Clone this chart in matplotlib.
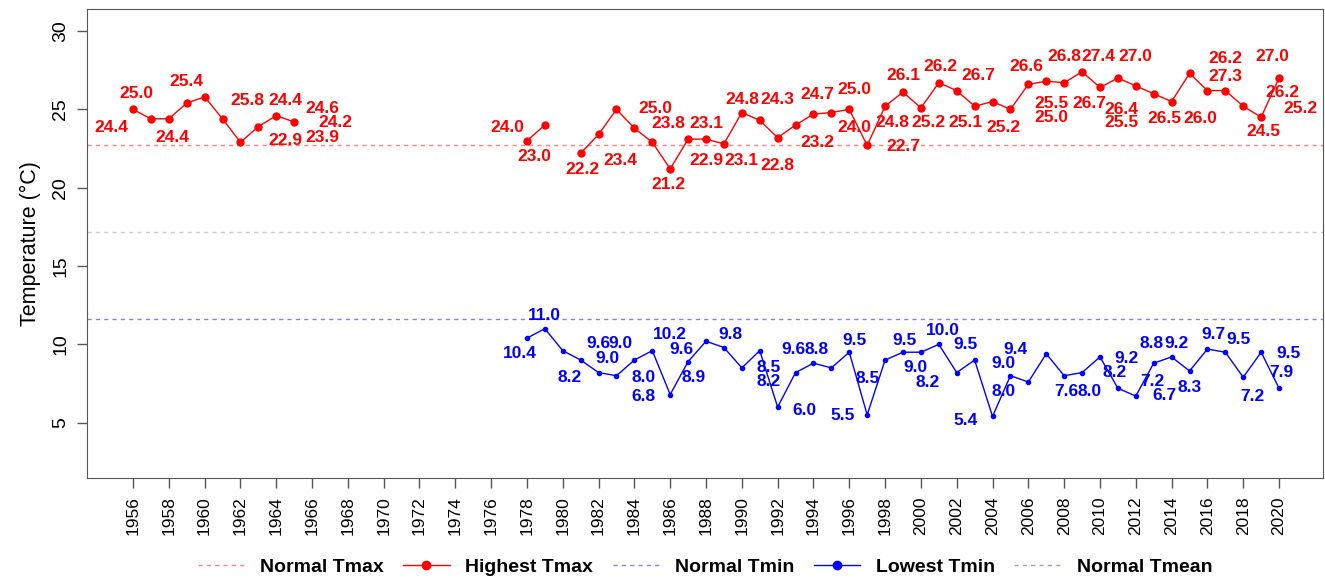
import numpy as np
import matplotlib.pyplot as plt
from matplotlib.lines import Line2D

plt.rcParams['font.family'] = ['Liberation Sans', 'DejaVu Sans']

nan = np.nan
years = list(range(1956, 2021))

# highest Tmax per year (1956-2020), gaps = no data
tmax = [25.0, 24.4, 24.4, 25.4, 25.8, 24.4, 22.9, 23.9, 24.6, 24.2,
        nan, nan, nan, nan, nan, nan, nan, nan, nan, nan, nan, nan,
        23.0, 24.0, nan, 22.2, 23.4, 25.0, 23.8, 22.9, 21.2, 23.1,
        23.1, 22.8, 24.8, 24.3, 23.2, 24.0, 24.7, 24.8, 25.0, 22.7,
        25.2, 26.1, 25.1, 26.7, 26.2, 25.2, 25.5, 25.0, 26.6, 26.8,
        26.7, 27.4, 26.4, 27.0, 26.5, 26.0, 25.5, 27.3, 26.2, 26.2,
        25.2, 24.5, 27.0]

# lowest Tmin per year (1956-2020)
tmin = [nan] * 22 + [
        10.4, 11.0, 9.6, 9.0, 8.2, 8.0, 9.0, 9.6, 6.8, 8.9,
        10.2, 9.8, 8.5, 9.6, 6.0, 8.2, 8.8, 8.5, 9.5, 5.5,
        9.0, 9.5, 9.5, 10.0, 8.2, 9.0, 5.4, 8.0, 7.6, 9.4,
        8.0, 8.2, 9.2, 7.2, 6.7, 8.8, 9.2, 8.3, 9.7, 9.5,
        7.9, 9.5, 7.2]

normal_tmax = 22.7
normal_tmin = 11.6
normal_tmean = 17.2

# where the value labels sit (year, temp), one per existing point
tmax_lab_x = [1956.2, 1954.8, 1958.2, 1959.0, 1962.4, 1964.5, 1964.5, 1966.6, 1966.6, 1967.3,
              1978.4, 1976.9, 1981.1, 1983.2, 1985.2, 1985.9, 1988.0, 1985.9, 1988.0, 1990.0,
              1992.0, 1990.0, 1992.0, 1994.2, 1996.3, 1994.2, 1998.4, 1996.3, 1999.0, 2000.4,
              1999.0, 2002.5, 2003.2, 2001.1, 2004.6, 2007.3, 2007.3, 2005.9, 2008.0, 2009.4,
              2009.9, 2011.2, 2012.0, 2013.6, 2015.6, 2011.2, 2017.0, 2017.0, 2020.2, 2021.2,
              2019.1, 2019.6]
tmax_lab_y = [26.03, 23.85, 23.21, 26.79, 25.58, 25.58, 23.01, 23.21, 25.06, 24.17,
              22.01, 23.83, 21.15, 21.75, 25.04, 24.10, 21.75, 20.19, 24.10, 21.75,
              21.41, 25.64, 25.64, 22.90, 23.83, 25.96, 24.15, 26.24, 22.61, 24.15,
              27.18, 24.15, 27.18, 27.74, 23.83, 25.37, 24.47, 27.74, 28.40, 25.37,
              28.40, 25.00, 28.40, 24.40, 24.40, 24.19, 27.13, 28.27, 26.07, 25.04,
              23.61, 28.40]

tmin_lab_x = [1977.6, 1979.0, 1982.0, 1982.5, 1980.4, 1984.5, 1983.2, 1986.6, 1984.5, 1987.3,
              1986.0, 1989.35, 1991.5, 1992.9, 1993.5, 1991.5, 1994.2, 1997.0, 1996.3, 1995.65,
              1999.7, 1999.1, 2002.5, 2001.2, 2000.4, 2004.6, 2002.5, 2004.6, 2008.1, 2005.3,
              2009.4, 2010.8, 2011.5, 2012.9, 2013.6, 2012.9, 2014.3, 2015.0, 2016.35, 2017.75,
              2020.1, 2020.5, 2018.5]
tmin_lab_y = [9.40, 11.86, 10.04, 9.08, 7.87, 7.87, 10.04, 9.68, 6.67, 7.87,
              10.64, 10.64, 8.51, 9.68, 5.77, 7.65, 9.68, 7.84, 10.26, 5.43,
              8.51, 10.26, 10.00, 10.90, 7.58, 8.76, 5.17, 6.99, 6.99, 9.68,
              6.99, 8.19, 9.08, 7.65, 6.73, 10.04, 10.04, 7.26, 10.64, 10.30,
              8.22, 9.40, 6.67]

fig = plt.figure(figsize=(13.25, 5.8), dpi=100)
ax = fig.add_axes([0.0659, 0.1753, 0.9328, 0.8087])

ax.axhline(normal_tmax, color='#ff8080', lw=1, dashes=(3, 3))
ax.axhline(normal_tmin, color='#8080ff', lw=1, dashes=(3, 3))
ax.axhline(normal_tmean, color='#cccccc', lw=1, dashes=(3, 3))

ax.plot(years, tmax, color='red', lw=1, marker='o', ms=5)
ax.plot(years, tmin, color='blue', lw=1, marker='o', ms=3)

vals = [v for v in tmax if not np.isnan(v)]
for v, x, y in zip(vals, tmax_lab_x, tmax_lab_y):
    ax.text(x, y, f"{v:.1f}", color='red', fontsize=12.5, fontweight='bold',
            ha='center', va='center')
vals = [v for v in tmin if not np.isnan(v)]
for v, x, y in zip(vals, tmin_lab_x, tmin_lab_y):
    ax.text(x, y, f"{v:.1f}", color='blue', fontsize=12.5, fontweight='bold',
            ha='center', va='center')

ax.set_xlim(1953.45, 2022.47)
ax.set_ylim(1.45, 31.39)
ax.set_xticks(range(1956, 2021, 2))
ax.set_xticklabels([str(y) for y in range(1956, 2021, 2)], rotation=90, fontsize=12.5)
ax.set_yticks([5, 10, 15, 20, 25, 30])
ax.set_yticklabels(['5', '10', '15', '20', '25', '30'], rotation=90, va='center', fontsize=14)
ax.tick_params(direction='out', length=7, color='#555555', width=1, pad=6)
for s in ax.spines.values():
    s.set_color('#555555')
ax.set_ylabel('Temperature (°C)', fontsize=15.5, labelpad=8)

handles = [Line2D([], [], color='#ff8080', lw=1, dashes=(3, 3)),
           Line2D([], [], color='red', lw=1, marker='o', ms=6),
           Line2D([], [], color='#8080ff', lw=1, dashes=(3, 3)),
           Line2D([], [], color='blue', lw=1, marker='o', ms=6),
           Line2D([], [], color='#b88ae8', lw=1, dashes=(3, 3))]
names = ['Normal Tmax', 'Highest Tmax', 'Normal Tmin', 'Lowest Tmin', 'Normal Tmean']
fig.legend(handles, names, loc='center', bbox_to_anchor=(0.532, 0.022), ncol=5,
           frameon=False, prop={'weight': 'bold', 'size': 14},
           handlelength=2.4, columnspacing=1.0, handletextpad=0.8)

fig.savefig('out.png', dpi=100)
